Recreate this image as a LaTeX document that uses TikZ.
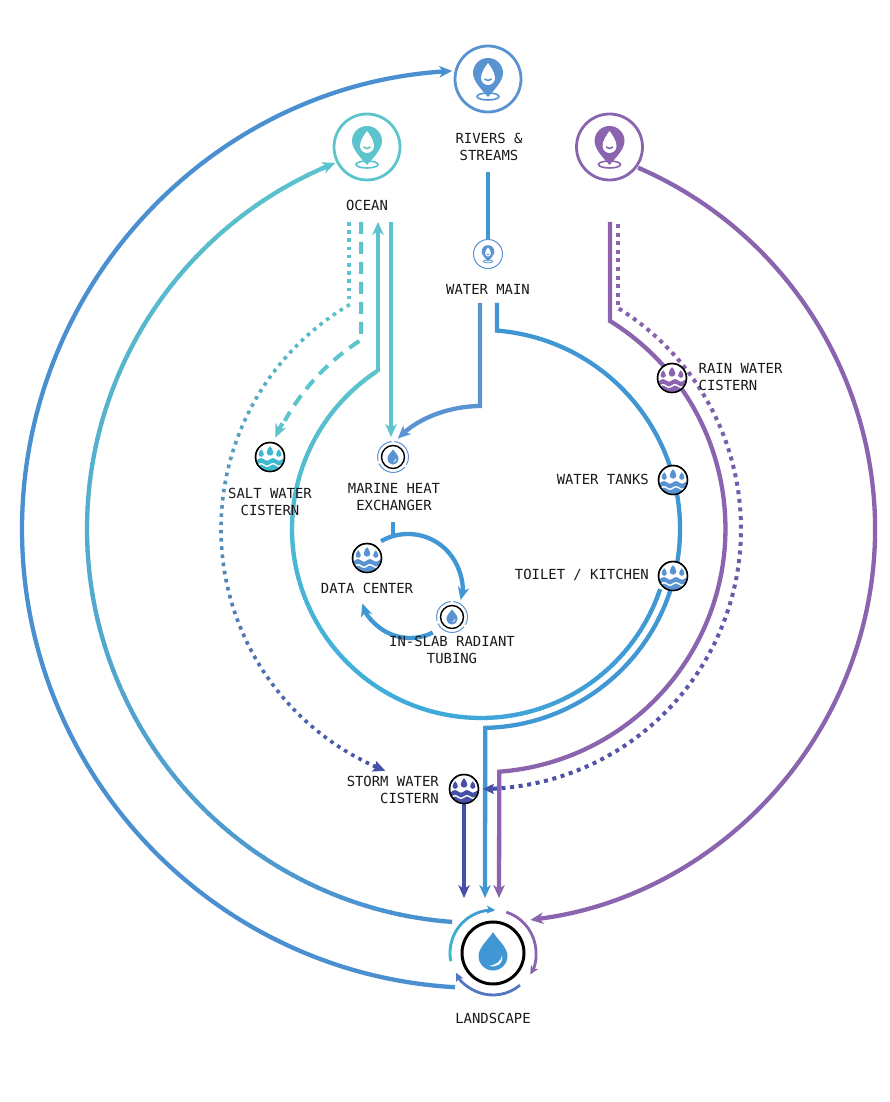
\documentclass[tikz,border=0pt]{standalone}
\usepackage{fontspec}
\setmonofont{DejaVu Sans Mono}
\usetikzlibrary{arrows.meta,calc}
\definecolor{cTeal}{HTML}{5BC4CC}
\definecolor{cBlue}{HTML}{4A90D0}
\definecolor{cMain}{HTML}{4197D3}
\definecolor{cPin}{HTML}{5A93D2}
\definecolor{cSky}{HTML}{3FAEDB}
\definecolor{cPurple}{HTML}{8A64AE}
\definecolor{cIndigo}{HTML}{4650A6}
\definecolor{cCyan}{HTML}{35BCD0}
\definecolor{cSalt}{HTML}{3DB9CF}
\tikzset{
  arrowend/.style={-{Stealth[length=13pt,width=11.5pt,inset=4pt]}},
  smallarrow/.style={-{Stealth[length=8.5pt,width=8pt,inset=2pt]}},
  lab/.style={font=\ttfamily\fontsize{13.9}{17}\selectfont,text=black!90,inner sep=0pt,align=center},
  labr/.style={lab,align=right,anchor=east},
  labl/.style={lab,align=left,anchor=west},
  heavy/.style={line width=4.3pt},
  medium/.style={line width=4pt},
}
% r, a1, a2, c1, c2, width, n
\newcommand\GradArc[7]{%
  \foreach \k in {1,...,#7}{%
    \pgfmathsetmacro\aS{#2+(#3-#2)/#7*(\k-1)}%
    \pgfmathsetmacro\aE{#2+(#3-#2)/#7*(\k+0.15)}%
    \pgfmathtruncatemacro\pc{100/#7*(\k-0.5)}%
    \draw[line width=#6,draw={#5!\pc!#4}] ([shift={(\aS:#1pt)}]C) arc[start angle=\aS,end angle=\aE,radius=#1pt];
  }}
% r, a1, a2, c1, c2, width, period
\newcommand\DotArc[7]{%
  \pgfmathtruncatemacro\nn{abs(#3-#2)*3.14159/180*#1/#7}%
  \foreach \k in {0,...,\nn}{%
    \pgfmathsetmacro\aS{#2+(#3-#2)/\nn*\k}%
    \pgfmathsetmacro\aE{\aS+sign(#3-#2)*#6/#1*57.3}%
    \pgfmathtruncatemacro\pc{100/\nn*\k}%
    \draw[line width=#6,draw={#5!\pc!#4}] ([shift={(\aS:#1pt)}]C) arc[start angle=\aS,end angle=\aE,radius=#1pt];
  }}
% name, x, y, radius, colour, scale, ring width, thin width
\newcommand\PinIcon[8]{%
  \node[circle,draw=#5,fill=white,line width=#7,minimum size=2*#4,inner sep=0pt] (#1) at (#2,#3) {};
  \begin{scope}[shift={(#1.center)},scale=#6]
    \draw[#5,line width=#8] (0,-17.5) ellipse[x radius=11,y radius=3.5];
    \fill[#5] (0,-18) .. controls (-7,-10) and (-15,-2) .. (-15,6) arc[start angle=180,end angle=0,radius=15] .. controls (15,-2) and (7,-10) .. (0,-18) -- cycle;
    \fill[white] (0,16) .. controls (3,12) and (7,6) .. (7,1) arc[start angle=0,end angle=-180,radius=7] .. controls (-7,6) and (-3,12) .. (0,16) -- cycle;
    \draw[#5,line width=#8] (-3.5,0) .. controls (-1.5,-2) and (1.5,-2) .. (3.5,0);
  \end{scope}}
% x, y, r, colour
\newcommand\TinyDrop[4]{%
  \fill[#4] (#1,#2+1.9*#3) .. controls (#1+.4*#3,#2+1.4*#3) and (#1+#3,#2+.7*#3) .. (#1+#3,#2) arc[start angle=0,end angle=-180,radius=#3] .. controls (#1-#3,#2+.7*#3) and (#1-.4*#3,#2+1.4*#3) .. (#1,#2+1.9*#3) -- cycle;}
% name, x, y, colour
\newcommand\CisternIcon[4]{%
  \node[circle,draw=black,fill=white,line width=1.4pt,minimum size=29pt,inner sep=0pt] (#1) at (#2,#3) {};
  \begin{scope}[shift={(#1.center)}]
    \begin{scope}
      \clip (0,0) circle[radius=14pt];
      \fill[#4] plot[domain=-16:16,samples=41] (\x,{-2.4+1.2*sin(\x*30)}) -- (16,-16) -- (-16,-16) -- cycle;
      \draw[white,line width=1.4pt] plot[domain=-16:16,samples=41] (\x,{-8+1.2*sin(\x*30)});
    \end{scope}
    \TinyDrop{0}{4.6}{3.3}{#4}
    \TinyDrop{-8.8}{2.8}{2.6}{#4}
    \TinyDrop{8.8}{2.8}{2.6}{#4}
    \draw[black,line width=1.4pt] (0,0) circle[radius=14.5pt];
  \end{scope}}
% name, x, y
\newcommand\ExchangeIcon[3]{%
  \node[circle,draw=black,fill=white,line width=1.4pt,minimum size=23pt,inner sep=0pt] (#1) at (#2,#3) {};
  \begin{scope}[shift={(#1.center)}]
    \fill[cPin] (0,7.5) .. controls (1.5,5) and (5.6,2) .. (5.6,-2) arc[start angle=0,end angle=-180,radius=5.6] .. controls (-5.6,2) and (-1.5,5) .. (0,7.5) -- cycle;
    \draw[white,line width=.7pt] (3,-2) .. controls (2.9,-3.5) and (1.8,-4.5) .. (.5,-4.8);
    \foreach \a/\b in {95/195,205/320,330/445}{
      \draw[cPin,line width=1pt] (\a:15.5pt) arc[start angle=\a,end angle=\b,radius=15.5pt];
    }
  \end{scope}}
\begin{document}
\begin{tikzpicture}[x=1pt,y=1pt]
\useasboundingbox (0,0) rectangle (890,1102);
\fill[white] (0,0) rectangle (890,1102);
\coordinate (C) at (481,573);
\coordinate (LoopA) at (408,514);
\coordinate (LoopB) at (410,514);
\coordinate (LandC) at (493,149);

% free ends of the connectors
\coordinate (riverStart) at (488,930);
\coordinate (mainA) at (480,799);
\coordinate (mainAb) at (480,696);
\coordinate (mainB) at (497,799);
\coordinate (mainBb) at (497,771.4);
\coordinate (blueEnd) at (485,204);
\coordinate (purpleTop) at (610,880);
\coordinate (purpleKnee) at (610,781);
\coordinate (purpleEnd) at (499,204);
\coordinate (tealUpLow) at (378,730);
\coordinate (tealUpTop) at (378,880);
\coordinate (tealDownTop) at (391,880);
\coordinate (tealDownEnd) at (391,665);
\coordinate (dotTealTop) at (349,880);
\coordinate (dotTealKnee) at (349,799);
\coordinate (dashTop) at (361,880);
\coordinate (dashKnee) at (361,762);
\coordinate (dotPurpleTop) at (618,878);
\coordinate (dotPurpleKnee) at (618,792);
\coordinate (loopTop) at (393,580);
\coordinate (loopJoin) at (393,566);
\coordinate (stormEnd) at (464,204);

% outer blue ring
\draw[cBlue,heavy,arrowend] ([shift={(266.75:459pt)}]C) arc[start angle=266.75,end angle=93.6,radius=459pt];
% ocean ring
\GradArc{394}{265.8}{113.5}{cBlue}{cTeal}{4.3pt}{120}
\draw[cTeal,heavy,arrowend] ([shift={(114:394pt)}]C) arc[start angle=114,end angle=111.7,radius=394pt];
% purple ring
\draw[cPurple,heavy,arrowend] ([shift={(66.5:394pt)}]C) arc[start angle=66.5,end angle=-82.8,radius=394pt];
% purple inner line
\draw[cPurple,heavy,arrowend,line join=miter] (purpleTop) -- (purpleKnee) arc[start angle=58.2,end angle=-85.8,radius=244pt] -- (purpleEnd);
% main blue line
\draw[cMain,heavy,arrowend,line join=miter] (mainB) -- (mainBb) arc[start angle=85.4,end angle=-88.8,radius=199pt] -- (blueEnd);
% inner teal-to-blue ring
\GradArc{189}{123.3}{235}{cTeal}{cSky}{4.3pt}{70}
\GradArc{189}{235}{341.2}{cSky}{cMain}{4.3pt}{70}
% teal verticals
\draw[cTeal,heavy,line join=miter] (tealUpLow) -- ($(tealUpTop)+(0,-8)$);
\draw[cTeal,heavy,arrowend] ($(tealUpTop)+(0,-14)$) -- (tealUpTop);
\draw[cTeal,medium,arrowend] (tealDownTop) -- (tealDownEnd);
% water main branch
\draw[cPin,heavy,arrowend] (mainA) -- (mainAb) arc[start angle=90.5,end angle=132.7,radius=123pt];
% rivers to water main
\draw[cMain,heavy] (riverStart) -- (488,862);
% dotted teal
\draw[cTeal,line width=3.6pt,dash pattern=on 3.6pt off 4.6pt] (dotTealTop) -- (dotTealKnee);
\DotArc{260}{120.3}{245.5}{cTeal}{cIndigo}{3.6}{8.2}
\draw[cIndigo,line width=3.6pt,-{Stealth[length=12pt,width=11pt,inset=2pt]}] ([shift={(245.5:260pt)}]C) arc[start angle=245.5,end angle=248.4,radius=260pt];
% dashed teal
\draw[cTeal,medium,dash pattern=on 12pt off 8pt] (dashTop) -- (dashKnee) arc[start angle=122.4,end angle=151,radius=225pt];
\draw[cTeal,medium,arrowend] ([shift={(152:225pt)}]C) arc[start angle=152,end angle=156,radius=225pt];
% dotted purple
\draw[cPurple,line width=4pt,dash pattern=on 4pt off 4.6pt] (dotPurpleTop) -- (dotPurpleKnee);
\DotArc{260}{58}{-86.5}{cPurple}{cIndigo}{4}{8.6}
\draw[cIndigo,line width=3.6pt,-{Stealth[length=11pt,width=10pt,inset=2pt]}] ([shift={(-87:260pt)}]C) arc[start angle=-87,end angle=-89.6,radius=260pt];
% loop
\draw[cMain,heavy] (loopTop) -- (loopJoin);
\draw[cMain,heavy,arrowend] ([shift={(120:54pt)}]LoopA) arc[start angle=120,end angle=-12.8,radius=54pt];
\draw[cMain,heavy,arrowend] ([shift={(-63:50pt)}]LoopB) arc[start angle=-63,end angle=-162,radius=50pt];

% icons
\PinIcon{rivers}{488}{1023}{33pt}{cPin}{1}{2.8pt}{1.6pt}
\PinIcon{ocean}{367}{955}{33pt}{cTeal}{1}{2.8pt}{1.6pt}
\PinIcon{rain}{609.5}{955}{33pt}{cPurple}{1}{2.8pt}{1.6pt}
\PinIcon{watermain}{488}{848}{14.5pt}{cPin}{.42}{1pt}{.8pt}
\CisternIcon{salt}{270}{645}{cSalt}
\CisternIcon{datacenter}{367}{544}{cPin}
\CisternIcon{raincistern}{672}{724}{cPurple}
\CisternIcon{tanks}{673}{622}{cPin}
\CisternIcon{toilet}{673}{526}{cPin}
% storm water cistern and its connector
\draw[cIndigo,medium,arrowend] (464,300) -- (stormEnd);
\CisternIcon{storm}{464}{313}{cIndigo}
\ExchangeIcon{marine}{393}{645}
\ExchangeIcon{inslab}{452}{485}

% landscape
\node[circle,draw=black,fill=white,line width=3pt,minimum size=62pt,inner sep=0pt] (landscape) at (LandC) {};
\begin{scope}[shift={(LandC)}]
  \fill[cMain] (0,21) .. controls (3,15) and (14.5,6) .. (14.5,-3) arc[start angle=0,end angle=-180,radius=14.5] .. controls (-14.5,6) and (-3,15) .. (0,21) -- cycle;
  \fill[white] (9.2,-2) .. controls (8.2,-8.5) and (3,-12) .. (-4,-13) .. controls (2,-14.6) and (10.5,-12) .. (9.2,-2) -- cycle;
\end{scope}
\foreach \k in {1,...,30}{
  \pgfmathsetmacro\aS{191-(\k-1)*95/30}
  \pgfmathsetmacro\aE{191-(\k+.2)*95/30}
  \pgfmathtruncatemacro\pc{100*(\k-.5)/30}
  \draw[line width=2.8pt,draw={cMain!\pc!cCyan}] ([shift={(\aS:43pt)}]LandC) arc[start angle=\aS,end angle=\aE,radius=43pt];
}
\draw[cMain,line width=2.8pt,smallarrow] ([shift={(96:43pt)}]LandC) arc[start angle=96,end angle=87,radius=43pt];
\draw[cPurple,line width=2.8pt,smallarrow] ([shift={(72:43pt)}]LandC) arc[start angle=72,end angle=-30,radius=43pt];
\draw[cPin!60!cIndigo,line width=2.8pt,smallarrow] ([shift={(-50:42pt)}]LandC) arc[start angle=-50,end angle=-152,radius=42pt];

% labels
\node[lab] (t1) at (489,955.5) {RIVERS \&\\STREAMS};
\node[lab] (t2) at (367,897) {OCEAN};
\node[lab] (t3) at (488,813) {WATER MAIN};
\node[lab] (t4) at (394,605) {MARINE HEAT\\EXCHANGER};
\node[lab] (t5) at (270,600) {SALT WATER\\CISTERN};
\node[lab] (t6) at (367,514) {DATA CENTER};
\node[lab] (t7) at (452,452) {IN-SLAB RADIANT\\TUBING};
\node[labr] (t8) at (649,623) {WATER TANKS};
\node[labr] (t9) at (649,527) {TOILET / KITCHEN};
\node[labl] (t10) at (698.5,724.5) {RAIN WATER\\CISTERN};
\node[labr] (t11) at (439,312.5) {STORM WATER\\CISTERN};
\node[lab] (t12) at (493,84) {LANDSCAPE};
\end{tikzpicture}
\end{document}
